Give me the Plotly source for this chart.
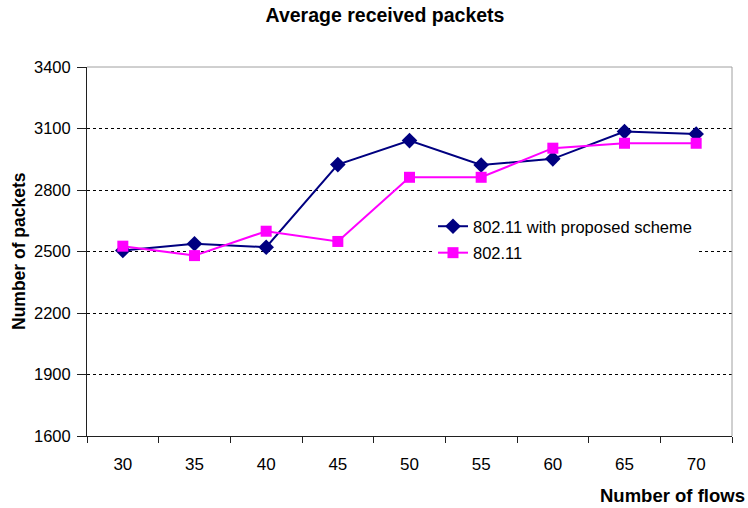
import plotly.graph_objects as go

# Number of flows (categories)
flows = ["30", "35", "40", "45", "50", "55", "60", "65", "70"]

# Average received packets per scheme
proposed = [2505, 2538, 2521, 2924, 3041, 2922, 2952, 3085, 3073]
baseline = [2526, 2480, 2599, 2549, 2862, 2862, 3004, 3028, 3028]

y_ticks = [1600, 1900, 2200, 2500, 2800, 3100, 3400]

FONT = "Liberation Sans, Arial, sans-serif"
NAVY = "#000080"
MAGENTA = "#FF00FF"

fig = go.Figure()
fig.add_trace(go.Scatter(
    x=flows, y=proposed, name="802.11 with proposed scheme",
    mode="lines+markers", legendgroup="a",
    line=dict(color=NAVY, width=2),
    marker=dict(symbol="diamond", size=12, color=NAVY),
))
fig.add_trace(go.Scatter(
    x=flows, y=baseline, name="802.11",
    mode="lines+markers", legendgroup="b",
    line=dict(color=MAGENTA, width=2),
    marker=dict(symbol="square", size=11, color=MAGENTA),
))

fig.update_layout(
    width=748, height=508,
    margin=dict(l=87, r=16, t=67, b=72),
    paper_bgcolor="white", plot_bgcolor="white",
    font=dict(family=FONT, color="black", size=16.5),
    title=dict(
        text="<b>Average received packets</b>",
        x=385 / 748, xanchor="center", y=1 - 15 / 508, yanchor="middle",
        font=dict(size=19.5, family=FONT, color="black"),
    ),
    legend=dict(
        x=(433 - 87) / 645, xanchor="left",
        y=(436 - 209) / 369, yanchor="top",
        bgcolor="white", borderwidth=0,
        font=dict(size=16.5, family=FONT, color="black"),
        traceorder="grouped", tracegroupgap=2, itemwidth=30,
    ),
    xaxis=dict(
        type="category", range=[-0.5, 8.5],
        showline=True, linecolor="#202020", linewidth=1,
        ticks="outside", tickson="boundaries", ticklen=6, tickcolor="#202020",
        showgrid=False, tickfont=dict(size=17), ticklabelstandoff=13,
    ),
    yaxis=dict(
        range=[1600, 3400], tickvals=y_ticks,
        showline=True, linecolor="#202020", linewidth=1,
        ticks="outside", ticklen=9, tickcolor="#202020",
        showgrid=True, gridcolor="black", griddash="dot", gridwidth=1,
        zeroline=False, tickfont=dict(size=16.5), ticklabelstandoff=3,
    ),
    annotations=[
        dict(text="<b>Number of flows</b>", xref="paper", yref="paper",
             x=(747 - 87) / 645, xanchor="right",
             y=(436 - 495) / 369, yanchor="middle",
             showarrow=False, font=dict(size=18.5, family=FONT, color="black")),
        dict(text="<b>Number of packets</b>", xref="paper", yref="paper",
             x=(19 - 87) / 645, xanchor="center",
             y=(436 - 251) / 369, yanchor="middle", textangle=-90,
             showarrow=False, font=dict(size=17.5, family=FONT, color="black")),
    ],
    shapes=[
        dict(type="line", xref="paper", yref="paper", x0=0, x1=1, y0=1, y1=1,
             line=dict(color="#A0A0A0", width=1), layer="above"),
        dict(type="line", xref="paper", yref="paper", x0=1, x1=1, y0=0, y1=1,
             line=dict(color="#A0A0A0", width=1), layer="above"),
    ],
)

fig.write_html("out.html")
